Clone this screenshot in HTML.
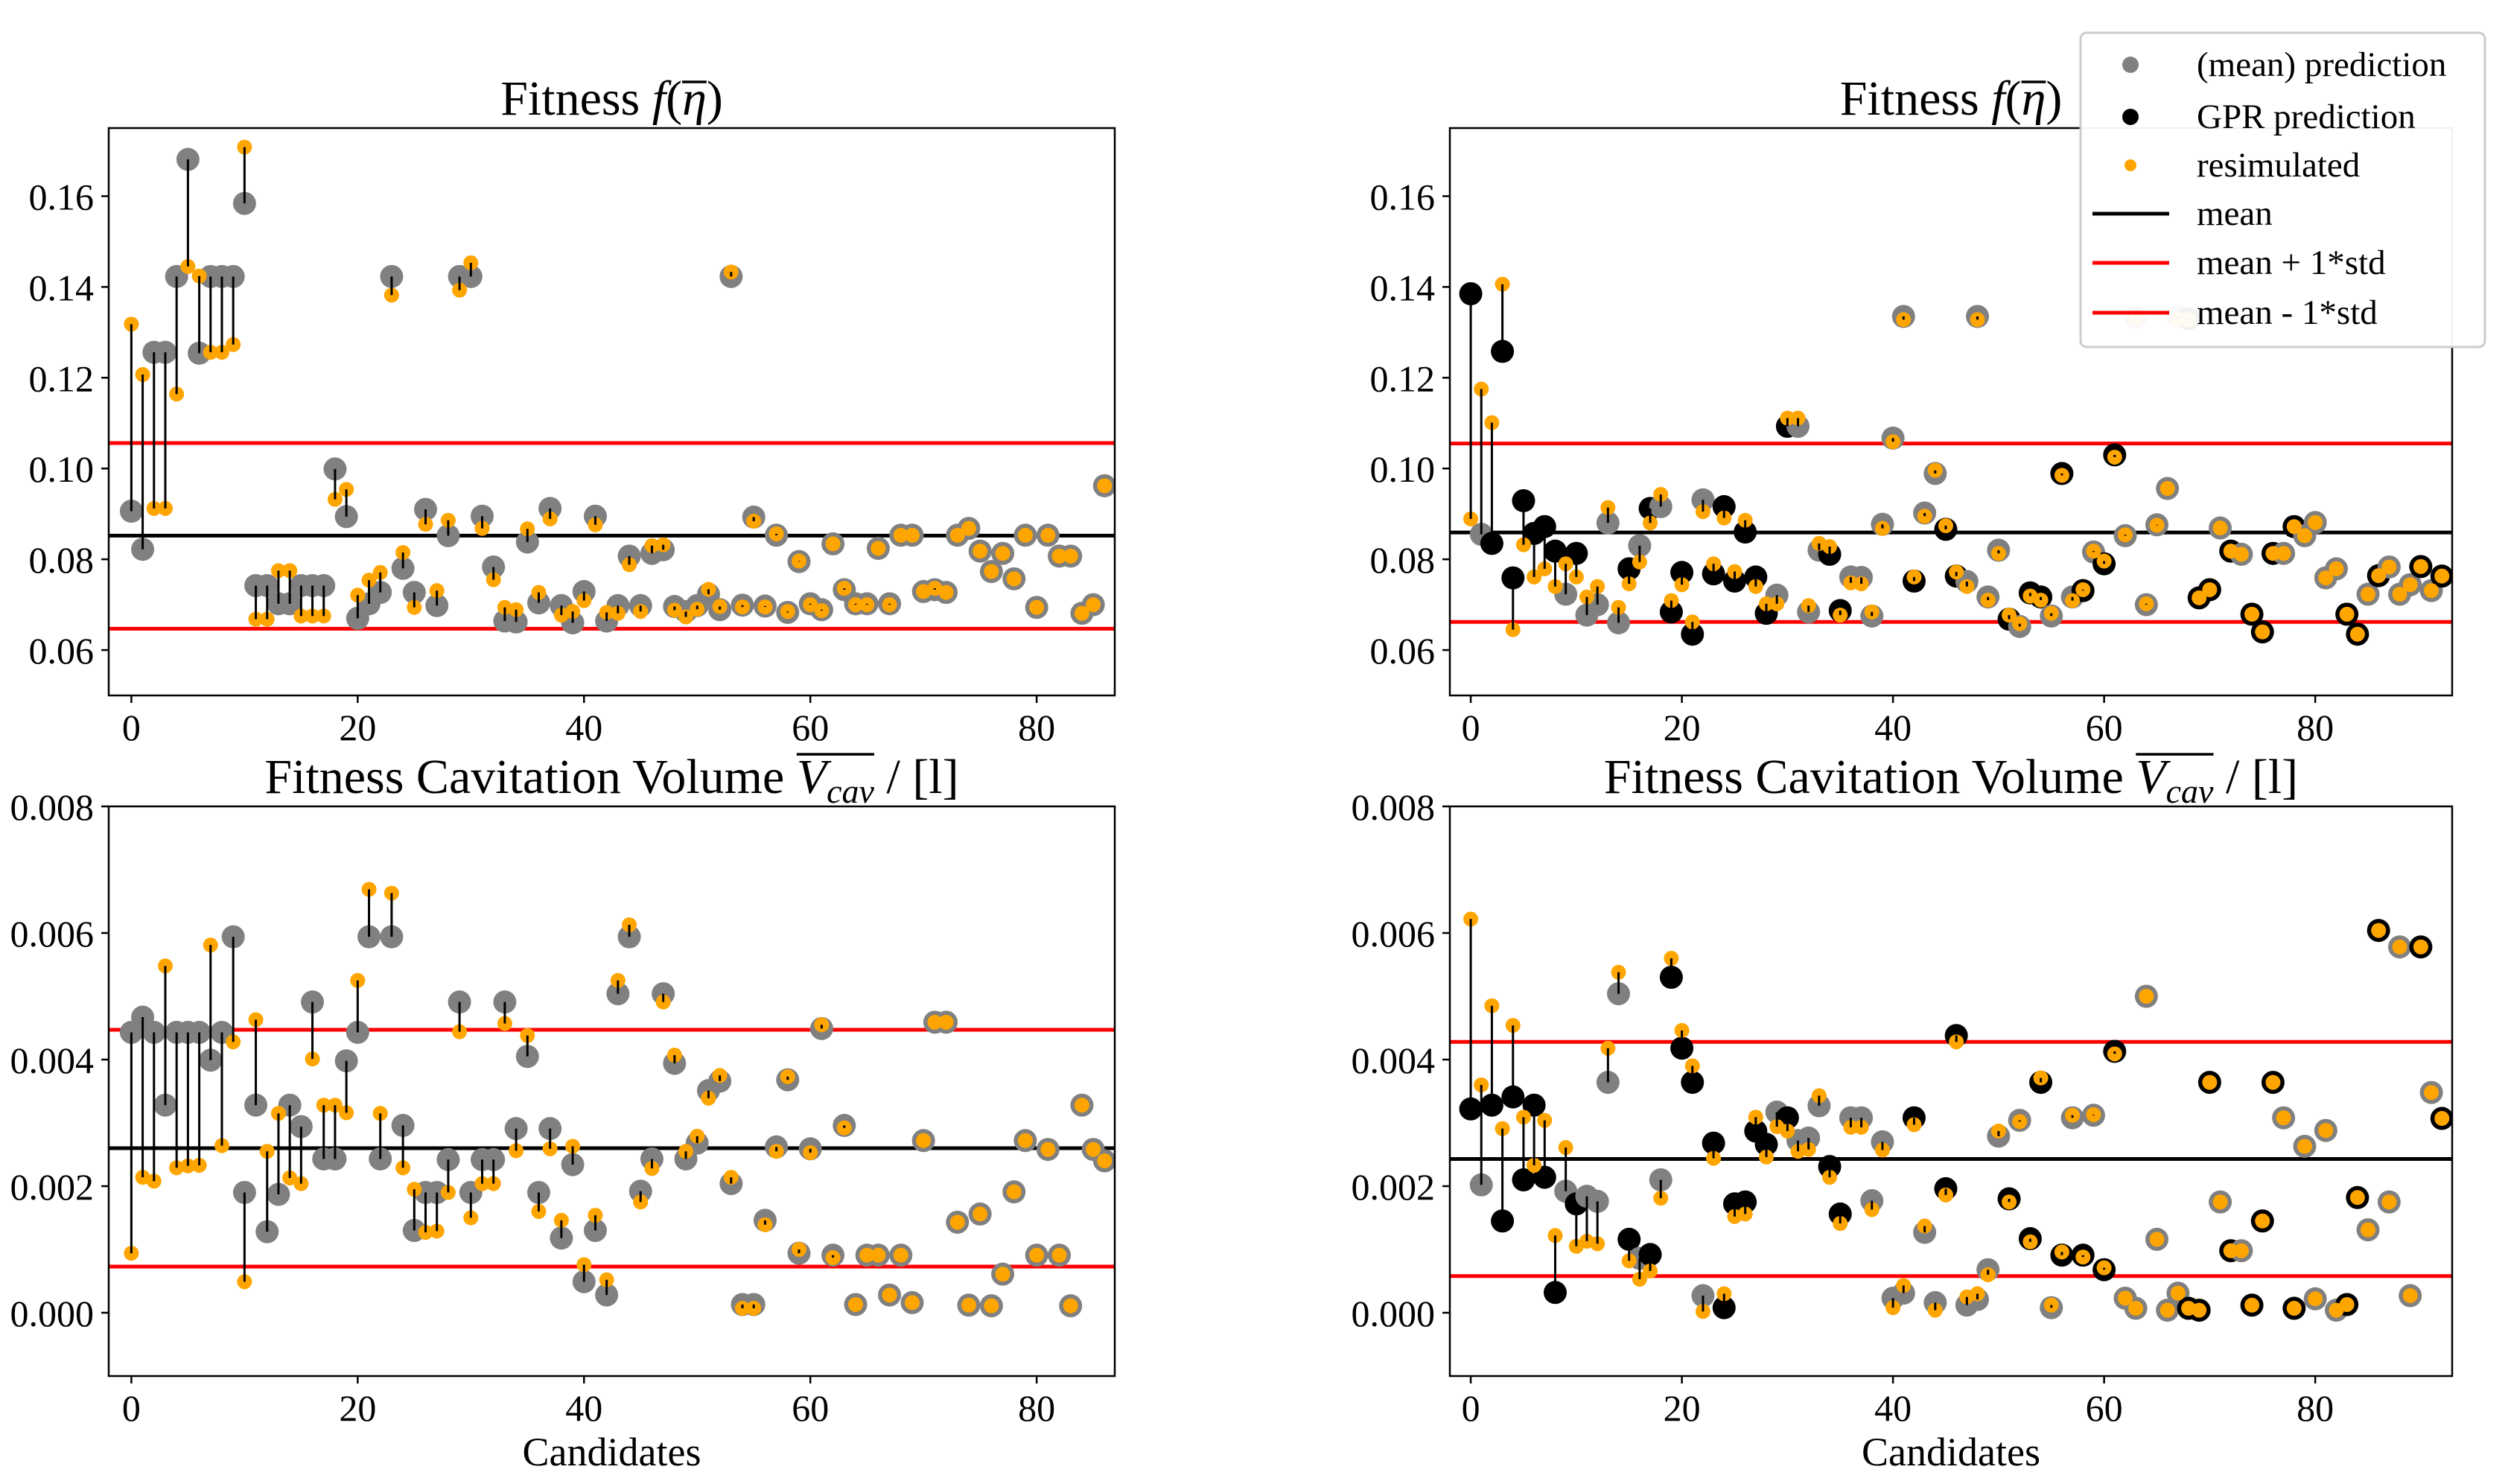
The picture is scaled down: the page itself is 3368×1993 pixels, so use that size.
<!DOCTYPE html>
<html><head><meta charset="utf-8"><style>
html,body{margin:0;padding:0;background:#fff;}
svg{display:block;font-family:"Liberation Serif","DejaVu Serif",serif;}
text{font-family:"Liberation Serif","DejaVu Serif",serif;}
</style></head><body>
<svg id="fig" xmlns="http://www.w3.org/2000/svg" width="3368" height="1993" viewBox="0 0 3368 1993" font-family="Liberation Serif, serif">
<rect width="3368" height="1993" fill="#fff"/>
</svg>
<script>
// ---------- data ----------
const xTicks = [0, 20, 40, 60, 80];
const fitTicks = [0.06, 0.08, 0.10, 0.12, 0.14, 0.16];
const fitTickLabels = ["0.06", "0.08", "0.10", "0.12", "0.14", "0.16"];
const cavTicks = [0.000, 0.002, 0.004, 0.006, 0.008];
const cavTickLabels = ["0.000", "0.002", "0.004", "0.006", "0.008"];

const leftFitPred = [0.0906,0.0822,0.1256,0.1256,0.1423,0.1681,0.1254,0.1423,0.1423,0.1423,
0.1584,0.0742,0.0742,0.0702,0.0702,0.0742,0.0742,0.0742,0.0999,0.0894,
0.0670,0.0702,0.0727,0.1423,0.0780,0.0727,0.0910,0.0698,0.0852,0.1423,
0.1423,0.0895,0.0783,0.0664,0.0662,0.0838,0.0704,0.0912,0.0698,0.0660,
0.0729,0.0895,0.0664,0.0698,0.0807,0.0698,0.0813,0.0821,0.0696,0.0685,
0.0698,0.0723,0.0689,0.1423,0.0699,0.0893,0.0697,0.0853,0.0683,0.0795,
0.0702,0.0689,0.0834,0.0733,0.0702,0.0702,0.0824,0.0702,0.0853,0.0853,
0.0729,0.0733,0.0727,0.0853,0.0868,0.0818,0.0773,0.0813,0.0757,0.0853,
0.0694,0.0853,0.0807,0.0807,0.0681,0.0700,0.0962];
const leftFitResim = [0.1318,0.1207,0.0912,0.0912,0.1164,0.1445,0.1424,0.1256,0.1256,0.1273,
0.1708,0.0668,0.0668,0.0775,0.0775,0.0675,0.0675,0.0675,0.0932,0.0954,
0.0721,0.0754,0.0771,0.1382,0.0815,0.0694,0.0877,0.0731,0.0886,0.1393,
0.1453,0.0868,0.0755,0.0694,0.0689,0.0867,0.0727,0.0889,0.0677,0.0685,
0.0709,0.0876,0.0683,0.0681,0.0788,0.0685,0.0830,0.0832,0.0688,0.0673,
0.0690,0.0734,0.0696,0.1433,0.0695,0.0884,0.0695,0.0856,0.0685,0.0796,
0.0700,0.0687,0.0834,0.0736,0.0700,0.0700,0.0824,0.0700,0.0853,0.0853,
0.0729,0.0736,0.0727,0.0853,0.0868,0.0818,0.0773,0.0813,0.0757,0.0853,
0.0694,0.0853,0.0807,0.0807,0.0681,0.0700,0.0962];
const leftFitStats = [0.0852, 0.1056, 0.0647];

const leftCavPred = [0.00443,0.00467,0.00443,0.00328,0.00443,0.00443,0.00443,0.00399,0.00443,0.00594,
0.00190,0.00328,0.00128,0.00187,0.00328,0.00294,0.00491,0.00243,0.00243,0.00398,
0.00443,0.00594,0.00243,0.00594,0.00296,0.00130,0.00190,0.00190,0.00242,0.00491,
0.00190,0.00242,0.00242,0.00491,0.00291,0.00405,0.00190,0.00291,0.00118,0.00234,
0.00049,0.00130,0.00028,0.00504,0.00594,0.00192,0.00243,0.00504,0.00394,0.00243,
0.00268,0.00351,0.00366,0.00204,0.00013,0.00013,0.00146,0.00262,0.00368,0.00094,
0.00259,0.00449,0.00091,0.00296,0.00013,0.00091,0.00091,0.00028,0.00091,0.00016,
0.00272,0.00459,0.00459,0.00143,0.00012,0.00156,0.00011,0.00061,0.00191,0.00272,
0.00091,0.00258,0.00091,0.00011,0.00328,0.00258,0.00240];
const leftCavResim = [0.00094,0.00214,0.00208,0.00548,0.00229,0.00232,0.00233,0.00581,0.00264,0.00428,
0.00049,0.00463,0.00255,0.00315,0.00213,0.00204,0.00401,0.00328,0.00328,0.00316,
0.00525,0.00669,0.00315,0.00663,0.00229,0.00195,0.00127,0.00129,0.00190,0.00444,
0.00150,0.00204,0.00204,0.00457,0.00256,0.00438,0.00160,0.00259,0.00146,0.00263,
0.00076,0.00154,0.00052,0.00525,0.00613,0.00175,0.00228,0.00491,0.00407,0.00255,
0.00279,0.00339,0.00375,0.00214,0.00007,0.00007,0.00139,0.00255,0.00373,0.00100,
0.00253,0.00455,0.00087,0.00292,0.00013,0.00091,0.00091,0.00028,0.00091,0.00016,
0.00272,0.00459,0.00459,0.00143,0.00012,0.00156,0.00011,0.00061,0.00191,0.00272,
0.00091,0.00258,0.00091,0.00011,0.00328,0.00258,0.00240];
const leftCavStats = [0.00260, 0.00447, 0.00073];

const rightIsGPR = [1,0,1,1,1,1,1,1,1,0, 1,0,0,0,0,1,0,1,0,1, 1,1,0,1,1,1,1,1,1,0,
1,0,0,0,1,1,0,0,0,0, 0,0,1,0,0,1,1,0,0,0, 0,1,0,1,1,0,1,0,1,0,
1,1,0,0,0,0,0,0,1,1, 1,0,1,0,1,1,1,0,1,0, 0,0,0,1,1,0,1,0,0,0, 1,0,1];
const rightFitPred = [0.1385,0.0855,0.0835,0.1258,0.0759,0.0929,0.0857,0.0872,0.0818,0.0723,
0.0813,0.0677,0.0700,0.0880,0.0660,0.0779,0.0830,0.0912,0.0916,0.0684,
0.0771,0.0635,0.0931,0.0768,0.0916,0.0752,0.0860,0.0761,0.0681,0.0721,
0.1093,0.1093,0.0684,0.0820,0.0811,0.0687,0.0761,0.0760,0.0675,0.0877,
0.1067,0.1335,0.0752,0.0902,0.0989,0.0866,0.0763,0.0751,0.1335,0.0717,
0.0820,0.0668,0.0652,0.0726,0.0717,0.0675,0.0989,0.0717,0.0731,0.0816,
0.0790,0.1030,0.0852,0.1335,0.0700,0.0876,0.0956,0.1335,0.1330,0.0715,
0.0733,0.0869,0.0818,0.0811,0.0679,0.0640,0.0813,0.0813,0.0872,0.0852,
0.0881,0.0759,0.0779,0.0679,0.0635,0.0723,0.0764,0.0783,0.0723,0.0744,
0.0784,0.0731,0.0763];
const rightFitResim = [0.0889,0.1175,0.1101,0.1406,0.0645,0.0832,0.0761,0.0779,0.0740,0.0790,
0.0761,0.0717,0.0740,0.0914,0.0694,0.0746,0.0794,0.0880,0.0943,0.0709,
0.0744,0.0662,0.0905,0.0790,0.0891,0.0773,0.0886,0.0740,0.0702,0.0702,
0.1111,0.1111,0.0698,0.0835,0.0828,0.0677,0.0748,0.0746,0.0684,0.0868,
0.1059,0.1328,0.0761,0.0895,0.0996,0.0874,0.0772,0.0740,0.1328,0.0710,
0.0813,0.0677,0.0658,0.0719,0.0710,0.0681,0.0985,0.0709,0.0733,0.0818,
0.0796,0.1025,0.0854,0.1330,0.0702,0.0875,0.0956,0.1330,0.1328,0.0715,
0.0733,0.0869,0.0818,0.0811,0.0679,0.0640,0.0813,0.0813,0.0872,0.0852,
0.0881,0.0759,0.0779,0.0679,0.0635,0.0723,0.0764,0.0783,0.0723,0.0744,
0.0784,0.0731,0.0763];
const rightFitStats = [0.0859, 0.1055, 0.0662];

const rightCavPred = [0.00322,0.00202,0.00328,0.00145,0.00341,0.00210,0.00328,0.00214,0.00032,0.00192,
0.00172,0.00184,0.00176,0.00364,0.00504,0.00116,0.00086,0.00092,0.00210,0.00530,
0.00418,0.00364,0.00027,0.00268,0.00008,0.00172,0.00175,0.00287,0.00266,0.00317,
0.00308,0.00272,0.00276,0.00327,0.00231,0.00156,0.00308,0.00308,0.00177,0.00270,
0.00023,0.00031,0.00308,0.00127,0.00016,0.00196,0.00438,0.00012,0.00021,0.00068,
0.00279,0.00180,0.00304,0.00117,0.00364,0.00008,0.00091,0.00308,0.00091,0.00312,
0.00068,0.00413,0.00023,0.00007,0.00500,0.00116,0.00004,0.00031,0.00007,0.00004,
0.00364,0.00175,0.00098,0.00098,0.00012,0.00145,0.00364,0.00308,0.00007,0.00263,
0.00022,0.00288,0.00004,0.00013,0.00182,0.00131,0.00604,0.00175,0.00578,0.00027,
0.00578,0.00348,0.00307];
const rightCavResim = [0.00622,0.00360,0.00485,0.00291,0.00454,0.00309,0.00233,0.00304,0.00122,0.00261,
0.00105,0.00113,0.00109,0.00418,0.00538,0.00082,0.00053,0.00066,0.00181,0.00560,
0.00446,0.00390,0.00002,0.00244,0.00030,0.00152,0.00156,0.00309,0.00246,0.00294,
0.00287,0.00255,0.00258,0.00343,0.00214,0.00141,0.00293,0.00293,0.00163,0.00257,
0.00008,0.00043,0.00297,0.00137,0.00004,0.00186,0.00428,0.00025,0.00030,0.00060,
0.00287,0.00175,0.00302,0.00112,0.00371,0.00012,0.00096,0.00312,0.00088,0.00313,
0.00071,0.00409,0.00023,0.00007,0.00500,0.00116,0.00004,0.00031,0.00007,0.00004,
0.00364,0.00175,0.00098,0.00098,0.00012,0.00145,0.00364,0.00308,0.00007,0.00263,
0.00022,0.00288,0.00004,0.00013,0.00182,0.00131,0.00604,0.00175,0.00578,0.00027,
0.00578,0.00348,0.00307];
const rightCavStats = [0.00243, 0.00428, 0.00058];

// ---------- drawing ----------
const NS = "http://www.w3.org/2000/svg";
const svg = document.getElementById("fig");
function mk(tag, attrs, parent) {
  const e = document.createElementNS(NS, tag);
  for (const k in attrs) e.setAttribute(k, attrs[k]);
  (parent || svg).appendChild(e);
  return e;
}
function overline(textEl, i0, i1, y, parent) {
  try {
    const a = textEl.getStartPositionOfChar(i0).x;
    const b = textEl.getEndPositionOfChar(i1).x;
    const l = mk("line", {x1: a, x2: b, y1: y, y2: y, stroke: "#000", "stroke-width": 3.5}, parent);
    
    
  } catch (e) {}
}

function panel(opt) {
  const g = mk("g", {});
  
  
  const {x0, x1, y0, y1, xmin, xmax, ymin, ymax} = opt;
  const sx = v => x0 + (v - xmin) / (xmax - xmin) * (x1 - x0);
  const sy = v => y1 - (v - ymin) / (ymax - ymin) * (y1 - y0);
  const clipId = opt.name + "-clip";
  const cp = mk("clipPath", {id: clipId}, g);
  mk("rect", {x: x0, y: y0, width: x1 - x0, height: y1 - y0}, cp);
  const plot = mk("g", {"clip-path": "url(#" + clipId + ")"}, g);
  
  

  const lineColors = ["#000", "#ff0000", "#ff0000"];
  const lineNames = ["mean-line", "mean-plus-std-line", "mean-minus-std-line"];
  opt.stats.forEach((v, k) => {
    const l = mk("line", {x1: x0, x2: x1, y1: sy(v), y2: sy(v), stroke: lineColors[k], "stroke-width": 5}, plot);
    
    
  });
  opt.pred.forEach((v, i) => {
    if (v == null) return;
    const gpr = opt.gpr ? opt.gpr[i] === 1 : false;
    const c = mk("circle", {cx: sx(i), cy: sy(v), r: 15.5, fill: gpr ? "#000" : "#808080"}, plot);
    
    
  });
  opt.resim.forEach((v, i) => {
    if (v == null) return;
    const c = mk("circle", {cx: sx(i), cy: sy(v), r: 10, fill: "#ffa500"}, plot);
    
    
  });
  opt.pred.forEach((v, i) => {
    const r = opt.resim[i];
    if (v == null || r == null) return;
    const l = mk("line", {x1: sx(i), x2: sx(i), y1: sy(v), y2: sy(r), stroke: "#000", "stroke-width": 3}, plot);
    
    
  });

  const fr = mk("rect", {x: x0, y: y0, width: x1 - x0, height: y1 - y0, fill: "none", stroke: "#000", "stroke-width": 2.5}, g);
  
  

  xTicks.forEach(t => {
    const x = sx(t);
    mk("line", {x1: x, x2: x, y1: y1, y2: y1 + 10, stroke: "#000", "stroke-width": 2.5}, g);
    const tx = mk("text", {x: x, y: y1 + 60, "font-size": 50, "text-anchor": "middle"}, g);
    tx.textContent = String(t);
    
    
  });
  opt.yTicks.forEach((t, k) => {
    const y = sy(t);
    mk("line", {x1: x0 - 10, x2: x0, y1: y, y2: y, stroke: "#000", "stroke-width": 2.5}, g);
    const tx = mk("text", {x: x0 - 20, y: y + 18, "font-size": 50, "text-anchor": "end"}, g);
    tx.textContent = opt.yLabels[k];
    
    
  });
  const cx = (x0 + x1) / 2;
  const ty = y0 - 18;
  const ti = mk("text", {x: cx, y: ty, "font-size": 66, "text-anchor": "middle"}, g);
  
  
  if (opt.kind === "fit") {
    ti.innerHTML = 'Fitness <tspan font-style="italic">f</tspan>(<tspan font-style="italic">η</tspan>)';
    overline(ti, 10, 10, ty - 44, g);
  } else {
    ti.innerHTML = 'Fitness Cavitation Volume <tspan font-style="italic">V<tspan font-size="46" dy="13">cav</tspan></tspan><tspan dy="-13"> / [l]</tspan>';
    overline(ti, 26, 29, ty - 52, g);
  }
  if (opt.xlabel) {
    const xl = mk("text", {x: cx, y: y1 + 120, "font-size": 54, "text-anchor": "middle"}, g);
    xl.textContent = "Candidates";
    
    
  }
}

panel({name: "fitness-panel-left", kind: "fit", x0: 146, x1: 1497, y0: 172, y1: 934, xmin: -2, xmax: 86.9, ymin: 0.05, ymax: 0.175,
  pred: leftFitPred, resim: leftFitResim, stats: leftFitStats, yTicks: fitTicks, yLabels: fitTickLabels});
panel({name: "fitness-panel-right", kind: "fit", x0: 1947, x1: 3293, y0: 172, y1: 934, xmin: -1.98, xmax: 92.97, ymin: 0.05, ymax: 0.175,
  pred: rightFitPred, resim: rightFitResim, gpr: rightIsGPR, stats: rightFitStats, yTicks: fitTicks, yLabels: fitTickLabels});
panel({name: "cavitation-panel-left", kind: "cav", x0: 146, x1: 1497, y0: 1083, y1: 1848, xmin: -2, xmax: 86.9, ymin: -0.001, ymax: 0.008,
  pred: leftCavPred, resim: leftCavResim, stats: leftCavStats, yTicks: cavTicks, yLabels: cavTickLabels, xlabel: true});
panel({name: "cavitation-panel-right", kind: "cav", x0: 1947, x1: 3293, y0: 1083, y1: 1848, xmin: -1.98, xmax: 92.97, ymin: -0.001, ymax: 0.008,
  pred: rightCavPred, resim: rightCavResim, gpr: rightIsGPR, stats: rightCavStats, yTicks: cavTicks, yLabels: cavTickLabels, xlabel: true});

const lg = mk("g", {});


mk("rect", {x: 2794, y: 44, width: 543, height: 422, rx: 8, fill: "#fff", "fill-opacity": 0.95, stroke: "#cccccc", "stroke-width": 3}, lg);
const legLabels = ["(mean) prediction", "GPR prediction", "resimulated", "mean", "mean + 1*std", "mean - 1*std"];
const legRows = [87, 157, 222, 287, 353, 420];
legLabels.forEach((t, k) => {
  const y = legRows[k];
  let m;
  if (k === 0) m = mk("circle", {cx: 2861, cy: y, r: 11, fill: "#808080"}, lg);
  else if (k === 1) m = mk("circle", {cx: 2861, cy: y, r: 11, fill: "#000"}, lg);
  else if (k === 2) m = mk("circle", {cx: 2861, cy: y, r: 8, fill: "#ffa500"}, lg);
  else m = mk("line", {x1: 2810, x2: 2913, y1: y, y2: y, stroke: k === 3 ? "#000" : "#ff0000", "stroke-width": 5}, lg);
  
  
  const tx = mk("text", {x: 2950, y: y + 15, "font-size": 47}, lg);
  tx.textContent = t;
  
  
});
</script>
</body></html>
